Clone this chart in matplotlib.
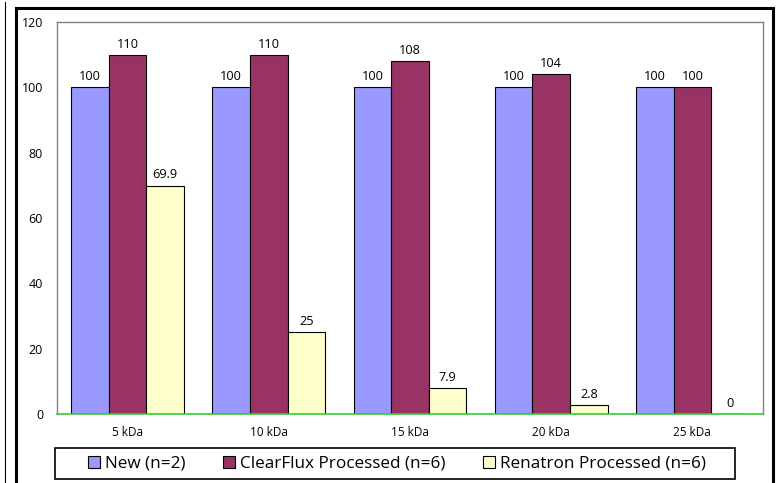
import matplotlib.pyplot as plt
import numpy as np
from matplotlib.patches import Rectangle
from matplotlib.lines import Line2D

categories = ["5 kDa", "10 kDa", "15 kDa", "20 kDa", "25 kDa"]
series_names = ["New (n=2)", "ClearFlux Processed (n=6)", "Renatron Processed (n=6)"]
new_vals = [100, 100, 100, 100, 100]
clearflux_vals = [110, 110, 108, 104, 100]
renatron_vals = [69.9, 25, 7.9, 2.8, 0]
value_labels = [
    ["100", "100", "100", "100", "100"],
    ["110", "110", "108", "104", "100"],
    ["69.9", "25", "7.9", "2.8", "0"],
]
colors = ["#9999FF", "#993366", "#FFFFCC"]


def main():
    plt.rcParams["font.family"] = ["Open Sans", "DejaVu Sans"]
    fig = plt.figure(figsize=(7.78, 4.83), dpi=100)
    ax = fig.add_axes([57 / 778, 69 / 483, 706 / 778, 392 / 483])

    x = np.arange(len(categories))
    width = 0.8 / 3
    data = [new_vals, clearflux_vals, renatron_vals]
    for i, (vals, name, col) in enumerate(zip(data, series_names, colors)):
        pos = x + (i - 1) * width
        bars = ax.bar(pos, vals, width, color=col, edgecolor="black",
                      linewidth=0.8, label=name, zorder=2)
        for b, txt in zip(bars, value_labels[i]):
            ax.annotate(txt, (b.get_x() + b.get_width() / 2, b.get_height()),
                        xytext=(0, 3), textcoords="offset points",
                        ha="center", va="bottom", fontsize=9.2)

    ax.set_xlim(-0.5, len(categories) - 0.5)
    ax.set_ylim(0, 120)
    ax.set_yticks(range(0, 121, 20))
    ax.set_xticks(x)
    ax.set_xticklabels(categories, fontsize=8.5)
    ax.tick_params(axis="y", length=0, pad=10, labelsize=9)
    ax.tick_params(axis="x", length=0, pad=9)
    for side in ["top", "right", "left"]:
        ax.spines[side].set_color("#808080")
        ax.spines[side].set_linewidth(1)
    ax.spines["bottom"].set_color("#33CC33")
    ax.spines["bottom"].set_linewidth(1.2)
    ax.spines["bottom"].set_zorder(3)

    fig.legend(loc="center", bbox_to_anchor=(397 / 778, 1 - 463.5 / 483),
               ncol=3, fontsize=12.3, frameon=False,
               handlelength=0.7, handleheight=0.7,
               handletextpad=0.3, columnspacing=2.2, borderpad=0.2)
    fig.patches.append(Rectangle((55 / 778, 1 - 479 / 483), 680 / 778, 31 / 483,
                                 transform=fig.transFigure, fill=False,
                                 edgecolor="black", linewidth=1.2))

    # outer frame of the chart object
    fig.patches.append(Rectangle((16 / 778, -0.05), 757 / 778, 1.05 - 8 / 483,
                                 transform=fig.transFigure, fill=False,
                                 edgecolor="black", linewidth=2.2))
    fig.lines.append(Line2D([5 / 778, 5 / 778], [0, 1 - 2 / 483],
                            transform=fig.transFigure, color="black", linewidth=0.8))

    fig.savefig("out.png", dpi=100)


if __name__ == "__main__":
    main()
